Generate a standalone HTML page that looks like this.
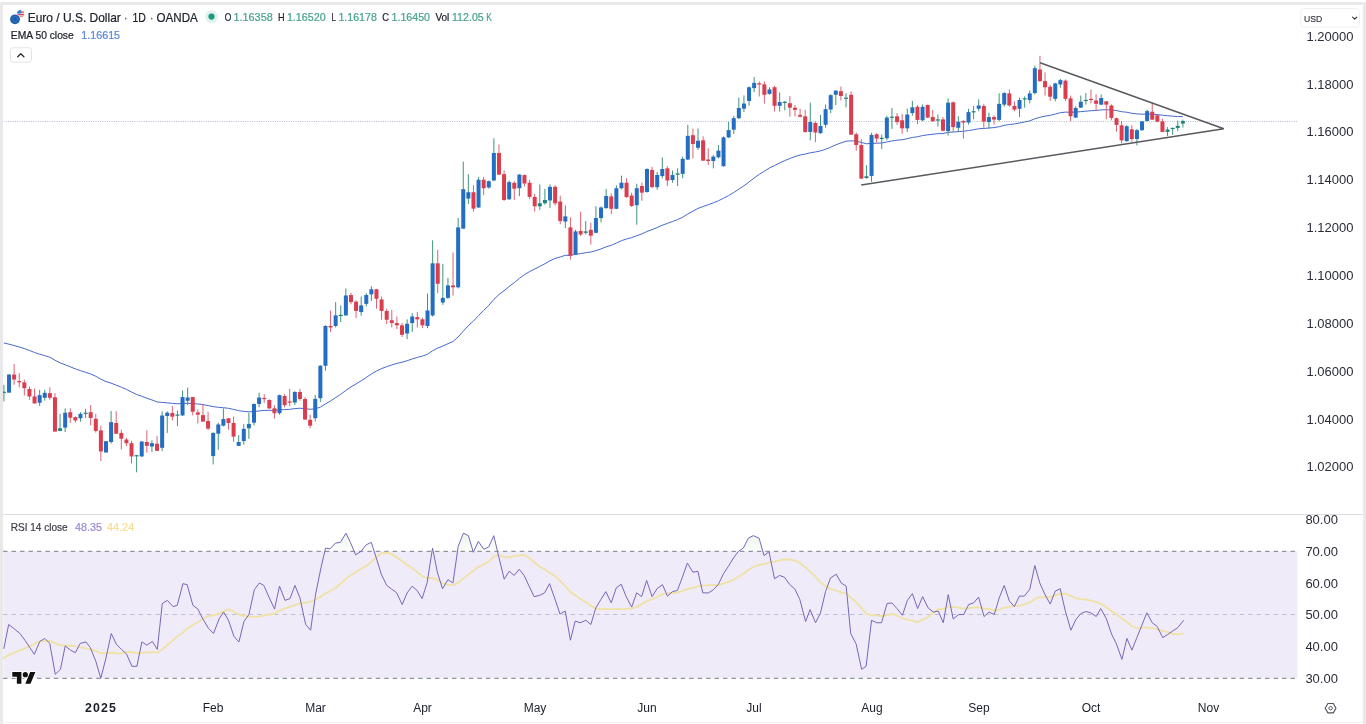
<!DOCTYPE html>
<html><head><meta charset="utf-8"><title>EURUSD</title>
<style>
html,body{margin:0;padding:0;background:#fff;}
body{width:1366px;height:724px;position:relative;overflow:hidden;font-family:"Liberation Sans",sans-serif;color:#1c1f2a;}
.b{position:absolute;background:#e9e9e9;}
svg{position:absolute;left:0;top:0;}
.pl{position:absolute;left:1306.5px;width:60px;font-size:13px;line-height:16px;height:16px;color:#2a2d38;white-space:nowrap;}
.tl{position:absolute;top:699.5px;width:60px;text-align:center;font-size:12px;line-height:16px;color:#1c1f2a;white-space:nowrap;}
.t{position:absolute;white-space:nowrap;}
</style></head><body>
<svg width="1366" height="724" viewBox="0 0 1366 724" shape-rendering="auto">
<line x1="3.5" y1="121.5" x2="1297.5" y2="121.5" stroke="#b4bfd3" stroke-width="1" stroke-dasharray="1 1.3"/>
<polyline fill="none" stroke="#4669cc" stroke-width="1" stroke-linejoin="round" points="3.92,342.98 9.03,344.2 14.13,345.57 19.24,346.99 24.34,348.59 29.44,350.44 34.55,352.5 39.65,354.15 44.75,355.65 49.86,357.28 54.96,360.18 60.06,362.83 65.17,364.76 70.27,366.82 75.38,368.9 80.48,370.65 85.58,372.27 90.69,374.05 95.79,376.26 100.89,379.19 106,381.6 111.1,383.17 116.2,385.13 121.31,387.21 126.41,389.39 131.51,392 136.62,394.47 141.72,396.29 146.83,398.22 151.93,399.96 157.03,401.93 162.14,402.45 167.24,402.83 172.34,403.35 177.45,403.78 182.55,403.5 187.65,403.24 192.76,403.55 197.86,403.97 202.97,404.64 208.07,405.56 213.17,406.61 218.28,407.29 223.38,407.74 228.48,408.31 233.59,409.4 238.69,410.66 243.79,411.36 248.9,411.83 254,411.5 259.11,410.93 264.21,410.45 269.31,410.34 274.42,410.44 279.52,409.82 284.62,409.62 289.73,409.32 294.83,408.62 299.93,408.22 305.04,408.64 310.14,409.29 315.24,408.86 320.35,407.15 325.45,403.95 330.56,400.93 335.66,397.56 340.76,394.3 345.87,390.4 350.97,386.92 356.07,383.92 361.18,380.82 366.28,377.44 371.38,373.96 376.49,370.99 381.59,368.62 386.7,366.68 391.8,364.95 396.9,363.38 402.01,362.24 407.11,360.71 412.21,358.96 417.32,357.38 422.42,356.1 427.52,354.3 432.63,350.71 437.73,348.06 442.83,346.08 447.94,343.68 453.04,341.45 458.15,336.95 463.25,331.14 468.35,325.67 473.46,321.06 478.56,315.5 483.66,310.49 488.77,305.4 493.87,299.4 498.97,294.49 504.08,290.76 509.18,286.48 514.29,282.63 519.39,278.37 524.49,274.63 529.6,271.56 534.7,268.98 539.8,266.39 544.91,263.76 550.01,260.72 555.11,258.45 560.22,256.97 565.32,255.35 570.42,255.34 575.53,254.39 580.63,253.58 585.74,252.7 590.84,252.01 595.94,250.65 601.05,248.94 606.15,246.84 611.25,245.33 616.36,243.07 621.46,240.69 626.56,238.96 631.67,237.64 636.77,235.68 641.88,233.98 646.98,231.41 652.08,229.65 657.19,227.49 662.29,225.18 667.39,223.4 672.5,221.49 677.6,219.58 682.7,217.18 687.81,213.97 692.91,211.21 698.02,208.42 703.12,206.53 708.22,204.73 713.33,202.82 718.43,200.76 723.53,198.25 728.64,195.56 733.74,192.51 738.84,189.17 743.95,185.8 749.05,181.91 754.15,178.01 759.26,174.32 764.36,171.18 769.47,167.96 774.57,165.5 779.67,162.99 784.78,160.58 789.88,158.49 794.98,156.56 800.09,154.98 805.19,154.05 810.29,152.78 815.4,151.96 820.5,150.93 825.61,149.27 830.71,147.13 835.81,144.89 840.92,142.96 846.02,141.17 851.12,140.89 856.23,141.03 861.33,142.49 866.43,143.79 871.54,143.43 876.64,143.22 881.74,142.99 886.85,141.97 891.95,140.96 897.06,140.2 902.16,139.72 907.26,138.71 912.37,137.46 917.47,136.75 922.57,135.56 927.68,134.83 932.78,134.28 937.88,133.67 942.99,133.54 948.09,132.31 953.2,132.08 958.3,131.66 963.4,131.28 968.51,130.51 973.61,129.73 978.71,128.76 983.82,128.46 988.92,127.99 994.02,127.64 999.13,126.69 1004.23,125.35 1009.34,124.55 1014.44,123.95 1019.54,122.99 1024.65,122 1029.75,120.86 1034.85,118.78 1039.96,117.28 1045.06,116.08 1050.16,115.3 1055.27,114.04 1060.37,112.69 1065.47,112.12 1070.58,112.27 1075.68,112.08 1080.79,111.65 1085.89,111.17 1090.99,110.72 1096.1,110.43 1101.2,109.92 1106.3,109.69 1111.41,110 1116.51,110.56 1121.61,111.71 1126.72,112.26 1131.82,113.29 1136.93,113.93 1142.03,114.2 1147.13,114.06 1152.24,114.26 1157.34,114.53 1162.44,115.19 1167.55,115.73 1172.65,116.19 1177.75,116.55 1182.86,116.71"/>
<path d="M3.92 384.86V401.43" stroke="#3f937c" stroke-width="1"/>
<path d="M9.03 374.08V392.64" stroke="#3f937c" stroke-width="1"/>
<path d="M14.13 364.14V384.86" stroke="#dc6272" stroke-width="1"/>
<path d="M19.24 373.26V387.34" stroke="#dc6272" stroke-width="1"/>
<path d="M24.34 379.55V395.63" stroke="#dc6272" stroke-width="1"/>
<path d="M29.44 386.51V399.77" stroke="#dc6272" stroke-width="1"/>
<path d="M34.55 388.5V403.41" stroke="#dc6272" stroke-width="1"/>
<path d="M39.65 389.83V406.06" stroke="#3f937c" stroke-width="1"/>
<path d="M44.75 389.83V400.6" stroke="#3f937c" stroke-width="1"/>
<path d="M49.86 387.34V399.77" stroke="#dc6272" stroke-width="1"/>
<path d="M54.96 393.14V431.58" stroke="#dc6272" stroke-width="1"/>
<path d="M60.06 413.85V431.25" stroke="#3f937c" stroke-width="1"/>
<path d="M65.17 408.38V432.08" stroke="#3f937c" stroke-width="1"/>
<path d="M70.27 408.38V422.97" stroke="#dc6272" stroke-width="1"/>
<path d="M75.38 416.34V422.63" stroke="#dc6272" stroke-width="1"/>
<path d="M80.48 412.2V421.64" stroke="#3f937c" stroke-width="1"/>
<path d="M85.58 408.88V418" stroke="#3f937c" stroke-width="1"/>
<path d="M90.69 405.07V425.45" stroke="#dc6272" stroke-width="1"/>
<path d="M95.79 413.85V432.58" stroke="#dc6272" stroke-width="1"/>
<path d="M100.89 425.45V461.08" stroke="#dc6272" stroke-width="1"/>
<path d="M106 441.19V452.46" stroke="#3f937c" stroke-width="1"/>
<path d="M111.1 411.04V443.68" stroke="#3f937c" stroke-width="1"/>
<path d="M116.2 411.37V433.74" stroke="#dc6272" stroke-width="1"/>
<path d="M121.31 429.59V449.48" stroke="#dc6272" stroke-width="1"/>
<path d="M126.41 437.88V446.16" stroke="#dc6272" stroke-width="1"/>
<path d="M131.51 440.86V463.56" stroke="#dc6272" stroke-width="1"/>
<path d="M136.62 454.78V472.34" stroke="#3f937c" stroke-width="1"/>
<path d="M141.72 441.19V456.93" stroke="#3f937c" stroke-width="1"/>
<path d="M146.83 430.42V452.79" stroke="#dc6272" stroke-width="1"/>
<path d="M151.93 440.36V451.96" stroke="#3f937c" stroke-width="1"/>
<path d="M157.03 435.89V451.14" stroke="#dc6272" stroke-width="1"/>
<path d="M162.14 411.37V451.14" stroke="#3f937c" stroke-width="1"/>
<path d="M167.24 411.37V432.91" stroke="#3f937c" stroke-width="1"/>
<path d="M172.34 406.06V420.48" stroke="#dc6272" stroke-width="1"/>
<path d="M177.45 410.54V425.95" stroke="#3f937c" stroke-width="1"/>
<path d="M182.55 390.5V416.12" stroke="#3f937c" stroke-width="1"/>
<path d="M187.65 387.57V405.14" stroke="#3f937c" stroke-width="1"/>
<path d="M192.76 396.79V415.39" stroke="#dc6272" stroke-width="1"/>
<path d="M197.86 409.53V423.44" stroke="#dc6272" stroke-width="1"/>
<path d="M202.97 403.97V421.98" stroke="#dc6272" stroke-width="1"/>
<path d="M208.07 411.73V430.32" stroke="#dc6272" stroke-width="1"/>
<path d="M213.17 432.23V464.44" stroke="#3f937c" stroke-width="1"/>
<path d="M218.28 422.71V449.8" stroke="#3f937c" stroke-width="1"/>
<path d="M223.38 408.36V426.37" stroke="#3f937c" stroke-width="1"/>
<path d="M228.48 418.02V429.74" stroke="#dc6272" stroke-width="1"/>
<path d="M233.59 416.56V441.74" stroke="#dc6272" stroke-width="1"/>
<path d="M238.69 435.15V446.13" stroke="#3f937c" stroke-width="1"/>
<path d="M243.79 424.17V444.67" stroke="#3f937c" stroke-width="1"/>
<path d="M248.9 412.75V438.81" stroke="#3f937c" stroke-width="1"/>
<path d="M254 403.38V425.34" stroke="#3f937c" stroke-width="1"/>
<path d="M259.11 392.69V407.34" stroke="#3f937c" stroke-width="1"/>
<path d="M264.21 394.16V402.94" stroke="#dc6272" stroke-width="1"/>
<path d="M269.31 399.28V409.24" stroke="#dc6272" stroke-width="1"/>
<path d="M274.42 405.14V418.61" stroke="#dc6272" stroke-width="1"/>
<path d="M279.52 394.6V414.66" stroke="#3f937c" stroke-width="1"/>
<path d="M284.62 394.16V407.34" stroke="#dc6272" stroke-width="1"/>
<path d="M289.73 388.74V406.31" stroke="#dc6272" stroke-width="1"/>
<path d="M294.83 391.23V405.14" stroke="#3f937c" stroke-width="1"/>
<path d="M299.93 389.03V400.75" stroke="#dc6272" stroke-width="1"/>
<path d="M305.04 397.09V419.78" stroke="#dc6272" stroke-width="1"/>
<path d="M310.14 414.66V428.27" stroke="#dc6272" stroke-width="1"/>
<path d="M315.24 394.92V421.44" stroke="#3f937c" stroke-width="1"/>
<path d="M320.35 365.08V401.99" stroke="#3f937c" stroke-width="1"/>
<path d="M325.45 325.3V370.61" stroke="#3f937c" stroke-width="1"/>
<path d="M330.56 310.5V331.93" stroke="#dc6272" stroke-width="1"/>
<path d="M335.66 302.1V327.51" stroke="#3f937c" stroke-width="1"/>
<path d="M340.76 305.41V321.99" stroke="#3f937c" stroke-width="1"/>
<path d="M345.87 288.4V315.8" stroke="#3f937c" stroke-width="1"/>
<path d="M350.97 292.82V304.31" stroke="#dc6272" stroke-width="1"/>
<path d="M356.07 300.33V318.01" stroke="#dc6272" stroke-width="1"/>
<path d="M361.18 296.57V315.8" stroke="#3f937c" stroke-width="1"/>
<path d="M366.28 293.26V306.52" stroke="#3f937c" stroke-width="1"/>
<path d="M371.38 286.19V300.99" stroke="#3f937c" stroke-width="1"/>
<path d="M376.49 288.84V308.73" stroke="#dc6272" stroke-width="1"/>
<path d="M381.59 296.57V319.78" stroke="#dc6272" stroke-width="1"/>
<path d="M386.7 308.73V324.2" stroke="#dc6272" stroke-width="1"/>
<path d="M391.8 309.83V327.51" stroke="#dc6272" stroke-width="1"/>
<path d="M396.9 316.46V329.06" stroke="#dc6272" stroke-width="1"/>
<path d="M402.01 323.09V337.02" stroke="#dc6272" stroke-width="1"/>
<path d="M407.11 319.34V339.23" stroke="#3f937c" stroke-width="1"/>
<path d="M412.21 313.15V331.93" stroke="#3f937c" stroke-width="1"/>
<path d="M417.32 312.04V327.51" stroke="#dc6272" stroke-width="1"/>
<path d="M422.42 317.57V328.18" stroke="#dc6272" stroke-width="1"/>
<path d="M427.52 293.7V328.18" stroke="#3f937c" stroke-width="1"/>
<path d="M432.63 240.33V316.62" stroke="#3f937c" stroke-width="1"/>
<path d="M437.73 249.72V293.15" stroke="#dc6272" stroke-width="1"/>
<path d="M442.83 263.8V304.88" stroke="#3f937c" stroke-width="1"/>
<path d="M447.94 277.89V299.01" stroke="#3f937c" stroke-width="1"/>
<path d="M453.04 252.54V295.49" stroke="#dc6272" stroke-width="1"/>
<path d="M458.15 218.03V288.45" stroke="#3f937c" stroke-width="1"/>
<path d="M463.25 161.69V229.06" stroke="#3f937c" stroke-width="1"/>
<path d="M468.35 174.13V203.94" stroke="#3f937c" stroke-width="1"/>
<path d="M473.46 185.16V211.69" stroke="#dc6272" stroke-width="1"/>
<path d="M478.56 176.95V207.93" stroke="#3f937c" stroke-width="1"/>
<path d="M483.66 176.95V195.26" stroke="#dc6272" stroke-width="1"/>
<path d="M488.77 180.47V188.69" stroke="#3f937c" stroke-width="1"/>
<path d="M493.87 138.22V181.17" stroke="#3f937c" stroke-width="1"/>
<path d="M498.97 144.55V175.07" stroke="#dc6272" stroke-width="1"/>
<path d="M504.08 170.38V200.89" stroke="#dc6272" stroke-width="1"/>
<path d="M509.18 180.47V199.95" stroke="#3f937c" stroke-width="1"/>
<path d="M514.29 181.17V199.95" stroke="#dc6272" stroke-width="1"/>
<path d="M519.39 174.13V196.2" stroke="#3f937c" stroke-width="1"/>
<path d="M524.49 174.6V186.34" stroke="#dc6272" stroke-width="1"/>
<path d="M529.6 179.77V199.25" stroke="#dc6272" stroke-width="1"/>
<path d="M534.7 193.85V211.69" stroke="#dc6272" stroke-width="1"/>
<path d="M539.8 184.46V209.81" stroke="#3f937c" stroke-width="1"/>
<path d="M544.91 188.69V204.65" stroke="#3f937c" stroke-width="1"/>
<path d="M550.01 184.46V207.93" stroke="#3f937c" stroke-width="1"/>
<path d="M555.11 185.16V205.59" stroke="#dc6272" stroke-width="1"/>
<path d="M560.22 195.73V224.37" stroke="#dc6272" stroke-width="1"/>
<path d="M565.32 205.59V228.12" stroke="#3f937c" stroke-width="1"/>
<path d="M570.42 217.32V259.58" stroke="#dc6272" stroke-width="1"/>
<path d="M575.53 229.77V254.88" stroke="#3f937c" stroke-width="1"/>
<path d="M580.63 211.69V236.1" stroke="#dc6272" stroke-width="1"/>
<path d="M585.74 221.08V234.46" stroke="#3f937c" stroke-width="1"/>
<path d="M590.84 222.72V244.55" stroke="#dc6272" stroke-width="1"/>
<path d="M595.94 206.29V233.29" stroke="#3f937c" stroke-width="1"/>
<path d="M601.05 206.57V222.49" stroke="#3f937c" stroke-width="1"/>
<path d="M606.15 188.9V208.78" stroke="#3f937c" stroke-width="1"/>
<path d="M611.25 193.31V214.09" stroke="#dc6272" stroke-width="1"/>
<path d="M616.36 185.36V209.23" stroke="#3f937c" stroke-width="1"/>
<path d="M621.46 175.64V189.34" stroke="#3f937c" stroke-width="1"/>
<path d="M626.56 178.29V197.73" stroke="#dc6272" stroke-width="1"/>
<path d="M631.67 192.65V207.02" stroke="#dc6272" stroke-width="1"/>
<path d="M636.77 183.81V224.7" stroke="#3f937c" stroke-width="1"/>
<path d="M641.88 182.71V200.83" stroke="#dc6272" stroke-width="1"/>
<path d="M646.98 168.34V192.65" stroke="#3f937c" stroke-width="1"/>
<path d="M652.08 166.8V188.23" stroke="#dc6272" stroke-width="1"/>
<path d="M657.19 172.1V189.78" stroke="#3f937c" stroke-width="1"/>
<path d="M662.29 157.29V178.29" stroke="#3f937c" stroke-width="1"/>
<path d="M667.39 166.13V186.02" stroke="#dc6272" stroke-width="1"/>
<path d="M672.5 170.55V182.71" stroke="#3f937c" stroke-width="1"/>
<path d="M677.6 168.34V186.02" stroke="#3f937c" stroke-width="1"/>
<path d="M682.7 156.63V178.29" stroke="#3f937c" stroke-width="1"/>
<path d="M687.81 124.81V160.17" stroke="#3f937c" stroke-width="1"/>
<path d="M692.91 128.56V158.4" stroke="#dc6272" stroke-width="1"/>
<path d="M698.02 128.56V150" stroke="#3f937c" stroke-width="1"/>
<path d="M703.12 136.3V161.05" stroke="#dc6272" stroke-width="1"/>
<path d="M708.22 148.45V165.03" stroke="#dc6272" stroke-width="1"/>
<path d="M713.33 155.08V168.34" stroke="#3f937c" stroke-width="1"/>
<path d="M718.43 145.14V158.4" stroke="#3f937c" stroke-width="1"/>
<path d="M723.53 136.3V166.8" stroke="#3f937c" stroke-width="1"/>
<path d="M728.64 121.93V138.07" stroke="#3f937c" stroke-width="1"/>
<path d="M733.74 115.97V134.09" stroke="#3f937c" stroke-width="1"/>
<path d="M738.84 97.62V119.06" stroke="#3f937c" stroke-width="1"/>
<path d="M743.95 95.41V111.99" stroke="#3f937c" stroke-width="1"/>
<path d="M749.05 86.57V105.8" stroke="#3f937c" stroke-width="1"/>
<path d="M754.15 77.07V92.1" stroke="#3f937c" stroke-width="1"/>
<path d="M759.26 81.49V96.52" stroke="#dc6272" stroke-width="1"/>
<path d="M764.36 81.49V103.59" stroke="#dc6272" stroke-width="1"/>
<path d="M769.47 87.24V94.75" stroke="#3f937c" stroke-width="1"/>
<path d="M774.57 85.91V111.55" stroke="#dc6272" stroke-width="1"/>
<path d="M779.67 92.54V111.55" stroke="#3f937c" stroke-width="1"/>
<path d="M784.78 100.88V110.39" stroke="#3f937c" stroke-width="1"/>
<path d="M789.88 96.03V116.68" stroke="#dc6272" stroke-width="1"/>
<path d="M794.98 105.01V116.32" stroke="#dc6272" stroke-width="1"/>
<path d="M800.09 108.6V117.58" stroke="#dc6272" stroke-width="1"/>
<path d="M805.19 109.86V132.84" stroke="#dc6272" stroke-width="1"/>
<path d="M810.29 102.68V140.38" stroke="#3f937c" stroke-width="1"/>
<path d="M815.4 121.17V142.17" stroke="#dc6272" stroke-width="1"/>
<path d="M820.5 114.88V133.73" stroke="#3f937c" stroke-width="1"/>
<path d="M825.61 104.47V127.81" stroke="#3f937c" stroke-width="1"/>
<path d="M830.71 94.24V113.09" stroke="#3f937c" stroke-width="1"/>
<path d="M835.81 90.11V105.01" stroke="#3f937c" stroke-width="1"/>
<path d="M840.92 86.52V100.52" stroke="#dc6272" stroke-width="1"/>
<path d="M846.02 93.34V107.34" stroke="#3f937c" stroke-width="1"/>
<path d="M851.12 91.54V134.99" stroke="#dc6272" stroke-width="1"/>
<path d="M856.23 132.48V150.79" stroke="#dc6272" stroke-width="1"/>
<path d="M861.33 139.12V179.16" stroke="#dc6272" stroke-width="1"/>
<path d="M866.43 165.15V178.62" stroke="#3f937c" stroke-width="1"/>
<path d="M871.54 132.84V181.67" stroke="#3f937c" stroke-width="1"/>
<path d="M876.64 133.2V142.71" stroke="#dc6272" stroke-width="1"/>
<path d="M881.74 134.63V148.99" stroke="#3f937c" stroke-width="1"/>
<path d="M886.85 115.78V140.38" stroke="#3f937c" stroke-width="1"/>
<path d="M891.95 108.06V128.89" stroke="#3f937c" stroke-width="1"/>
<path d="M897.06 113.09V124.76" stroke="#dc6272" stroke-width="1"/>
<path d="M902.16 113.99V133.73" stroke="#dc6272" stroke-width="1"/>
<path d="M907.26 108.6V131.94" stroke="#3f937c" stroke-width="1"/>
<path d="M912.37 100.88V115.78" stroke="#3f937c" stroke-width="1"/>
<path d="M917.47 105.01V124.22" stroke="#dc6272" stroke-width="1"/>
<path d="M922.57 104.47V121.17" stroke="#3f937c" stroke-width="1"/>
<path d="M927.68 104.47V118.11" stroke="#dc6272" stroke-width="1"/>
<path d="M932.78 109.86V122.06" stroke="#dc6272" stroke-width="1"/>
<path d="M937.88 114.52V126.55" stroke="#3f937c" stroke-width="1"/>
<path d="M942.99 117.04V131.4" stroke="#dc6272" stroke-width="1"/>
<path d="M948.09 98.37V135.53" stroke="#3f937c" stroke-width="1"/>
<path d="M953.2 101.42V131.94" stroke="#dc6272" stroke-width="1"/>
<path d="M958.3 116.32V131.94" stroke="#3f937c" stroke-width="1"/>
<path d="M963.4 120.39V138.62" stroke="#dc6272" stroke-width="1"/>
<path d="M968.51 108.79V124.54" stroke="#3f937c" stroke-width="1"/>
<path d="M973.61 105.98V119.23" stroke="#3f937c" stroke-width="1"/>
<path d="M978.71 99.35V111.28" stroke="#3f937c" stroke-width="1"/>
<path d="M983.82 103.82V127.85" stroke="#dc6272" stroke-width="1"/>
<path d="M988.92 112.61V128.68" stroke="#3f937c" stroke-width="1"/>
<path d="M994.02 115.42V124.54" stroke="#dc6272" stroke-width="1"/>
<path d="M999.13 93.38V121.22" stroke="#3f937c" stroke-width="1"/>
<path d="M1004.23 92.22V106.64" stroke="#3f937c" stroke-width="1"/>
<path d="M1009.34 89.41V106.64" stroke="#dc6272" stroke-width="1"/>
<path d="M1014.44 101.34V111.28" stroke="#dc6272" stroke-width="1"/>
<path d="M1019.54 97.69V117.08" stroke="#3f937c" stroke-width="1"/>
<path d="M1024.65 96.37V107.63" stroke="#3f937c" stroke-width="1"/>
<path d="M1029.75 90.57V103.33" stroke="#3f937c" stroke-width="1"/>
<path d="M1034.85 65.71V94.38" stroke="#3f937c" stroke-width="1"/>
<path d="M1039.96 55.77V81.79" stroke="#dc6272" stroke-width="1"/>
<path d="M1045.06 72.34V95.54" stroke="#dc6272" stroke-width="1"/>
<path d="M1050.16 84.77V101.01" stroke="#dc6272" stroke-width="1"/>
<path d="M1055.27 82.78V101.34" stroke="#3f937c" stroke-width="1"/>
<path d="M1060.37 78.97V87.75" stroke="#3f937c" stroke-width="1"/>
<path d="M1065.47 79.47V101.01" stroke="#dc6272" stroke-width="1"/>
<path d="M1070.58 95.54V121.22" stroke="#dc6272" stroke-width="1"/>
<path d="M1075.68 106.31V117.91" stroke="#3f937c" stroke-width="1"/>
<path d="M1080.79 95.54V107.97" stroke="#3f937c" stroke-width="1"/>
<path d="M1085.89 93.05V104.65" stroke="#3f937c" stroke-width="1"/>
<path d="M1090.99 89.41V103.33" stroke="#dc6272" stroke-width="1"/>
<path d="M1096.1 94.38V110.95" stroke="#dc6272" stroke-width="1"/>
<path d="M1101.2 94.38V104.98" stroke="#3f937c" stroke-width="1"/>
<path d="M1106.3 101.01V119.23" stroke="#dc6272" stroke-width="1"/>
<path d="M1111.41 104.32V120.39" stroke="#dc6272" stroke-width="1"/>
<path d="M1116.51 117.58V131.5" stroke="#dc6272" stroke-width="1"/>
<path d="M1121.61 120.97V143.37" stroke="#dc6272" stroke-width="1"/>
<path d="M1126.72 125.31V141.65" stroke="#3f937c" stroke-width="1"/>
<path d="M1131.82 125.31V141.65" stroke="#dc6272" stroke-width="1"/>
<path d="M1136.93 128.87V145.34" stroke="#3f937c" stroke-width="1"/>
<path d="M1142.03 120.97V130.85" stroke="#3f937c" stroke-width="1"/>
<path d="M1147.13 109.77V121.62" stroke="#3f937c" stroke-width="1"/>
<path d="M1152.24 102.52V120.04" stroke="#dc6272" stroke-width="1"/>
<path d="M1157.34 114.77V122.28" stroke="#dc6272" stroke-width="1"/>
<path d="M1162.44 118.73V132.17" stroke="#dc6272" stroke-width="1"/>
<path d="M1167.55 127.16V136.12" stroke="#3f937c" stroke-width="1"/>
<path d="M1172.65 127.55V134.8" stroke="#3f937c" stroke-width="1"/>
<path d="M1177.75 120.57V131.11" stroke="#3f937c" stroke-width="1"/>
<path d="M1182.86 119.65V127.55" stroke="#3f937c" stroke-width="1"/>
<rect x="1.92" y="391.71" width="4" height="1.2" fill="#1f8482"/>
<rect x="7.03" y="374.58" width="4" height="18.06" fill="#236ec2"/>
<rect x="12.13" y="374.58" width="4" height="4.97" fill="#d93d4e"/>
<rect x="17.24" y="381.04" width="4" height="1.33" fill="#d93d4e"/>
<rect x="22.34" y="382.37" width="4" height="5.8" fill="#d93d4e"/>
<rect x="27.44" y="389" width="4" height="7.46" fill="#d93d4e"/>
<rect x="32.55" y="396.45" width="4" height="6.96" fill="#d93d4e"/>
<rect x="37.65" y="395.13" width="4" height="7.62" fill="#236ec2"/>
<rect x="42.75" y="392.81" width="4" height="4.97" fill="#236ec2"/>
<rect x="47.86" y="393.14" width="4" height="4.64" fill="#d93d4e"/>
<rect x="52.96" y="397.28" width="4" height="34.3" fill="#d93d4e"/>
<rect x="58.06" y="428.27" width="4" height="2.65" fill="#1f8482"/>
<rect x="63.17" y="412.69" width="4" height="14.91" fill="#236ec2"/>
<rect x="68.27" y="412.2" width="4" height="5.47" fill="#d93d4e"/>
<rect x="73.38" y="417.17" width="4" height="3.31" fill="#d93d4e"/>
<rect x="78.48" y="413.85" width="4" height="4.47" fill="#236ec2"/>
<rect x="83.58" y="412.67" width="4" height="1.2" fill="#1f8482"/>
<rect x="88.69" y="412.2" width="4" height="5.8" fill="#d93d4e"/>
<rect x="93.79" y="418.82" width="4" height="12.1" fill="#d93d4e"/>
<rect x="98.89" y="430.42" width="4" height="21.04" fill="#d93d4e"/>
<rect x="104" y="441.19" width="4" height="11.27" fill="#236ec2"/>
<rect x="109.1" y="422.14" width="4" height="19.88" fill="#236ec2"/>
<rect x="114.2" y="422.97" width="4" height="10.77" fill="#d93d4e"/>
<rect x="119.31" y="432.91" width="4" height="5.8" fill="#d93d4e"/>
<rect x="124.41" y="439.54" width="4" height="3.65" fill="#d93d4e"/>
<rect x="129.51" y="443.18" width="4" height="13.26" fill="#d93d4e"/>
<rect x="134.62" y="455.17" width="4" height="1.2" fill="#1f8482"/>
<rect x="139.72" y="441.52" width="4" height="14.91" fill="#236ec2"/>
<rect x="144.83" y="442.02" width="4" height="3.81" fill="#d93d4e"/>
<rect x="149.93" y="443.18" width="4" height="3.31" fill="#236ec2"/>
<rect x="155.03" y="443.68" width="4" height="7.13" fill="#d93d4e"/>
<rect x="160.14" y="415.51" width="4" height="32.31" fill="#236ec2"/>
<rect x="165.24" y="412.69" width="4" height="3.31" fill="#236ec2"/>
<rect x="170.34" y="413.02" width="4" height="3.65" fill="#d93d4e"/>
<rect x="175.45" y="414.5" width="4" height="1.2" fill="#1f8482"/>
<rect x="180.55" y="397.09" width="4" height="18.3" fill="#236ec2"/>
<rect x="185.65" y="397.53" width="4" height="3.22" fill="#236ec2"/>
<rect x="190.76" y="397.09" width="4" height="14.64" fill="#d93d4e"/>
<rect x="195.86" y="412.46" width="4" height="2.2" fill="#d93d4e"/>
<rect x="200.97" y="415.1" width="4" height="6.44" fill="#d93d4e"/>
<rect x="206.07" y="420.95" width="4" height="7.61" fill="#d93d4e"/>
<rect x="211.17" y="432.96" width="4" height="23.13" fill="#236ec2"/>
<rect x="216.28" y="424.47" width="4" height="9.22" fill="#236ec2"/>
<rect x="221.38" y="419.05" width="4" height="6.59" fill="#236ec2"/>
<rect x="226.48" y="418.32" width="4" height="4.69" fill="#d93d4e"/>
<rect x="231.59" y="423" width="4" height="13.62" fill="#d93d4e"/>
<rect x="236.69" y="442.04" width="4" height="3.81" fill="#236ec2"/>
<rect x="241.79" y="428.86" width="4" height="12.15" fill="#236ec2"/>
<rect x="246.9" y="423.88" width="4" height="4.39" fill="#236ec2"/>
<rect x="252" y="403.97" width="4" height="18.74" fill="#236ec2"/>
<rect x="257.11" y="397.53" width="4" height="6.44" fill="#236ec2"/>
<rect x="262.21" y="397.95" width="4" height="1.2" fill="#d93d4e"/>
<rect x="267.31" y="400.01" width="4" height="8.35" fill="#d93d4e"/>
<rect x="272.42" y="408.36" width="4" height="4.83" fill="#d93d4e"/>
<rect x="277.52" y="395.18" width="4" height="18.01" fill="#236ec2"/>
<rect x="282.62" y="396.06" width="4" height="9.08" fill="#d93d4e"/>
<rect x="287.73" y="401.39" width="4" height="1.2" fill="#d93d4e"/>
<rect x="292.83" y="391.96" width="4" height="10.54" fill="#236ec2"/>
<rect x="297.93" y="391.96" width="4" height="7.03" fill="#d93d4e"/>
<rect x="303.04" y="398.99" width="4" height="20.5" fill="#d93d4e"/>
<rect x="308.14" y="419.78" width="4" height="5.86" fill="#d93d4e"/>
<rect x="313.24" y="398.9" width="4" height="19.23" fill="#236ec2"/>
<rect x="318.35" y="365.75" width="4" height="32.49" fill="#236ec2"/>
<rect x="323.45" y="325.97" width="4" height="39.78" fill="#236ec2"/>
<rect x="328.56" y="325.97" width="4" height="1.55" fill="#d93d4e"/>
<rect x="333.66" y="315.36" width="4" height="10.61" fill="#236ec2"/>
<rect x="338.76" y="314.87" width="4" height="1.2" fill="#1f8482"/>
<rect x="343.87" y="295.47" width="4" height="19.89" fill="#236ec2"/>
<rect x="348.97" y="295.03" width="4" height="7.07" fill="#d93d4e"/>
<rect x="354.07" y="301.66" width="4" height="9.28" fill="#d93d4e"/>
<rect x="359.18" y="305.41" width="4" height="6.63" fill="#236ec2"/>
<rect x="364.28" y="295.03" width="4" height="8.84" fill="#236ec2"/>
<rect x="369.38" y="289.28" width="4" height="5.08" fill="#236ec2"/>
<rect x="374.49" y="289.28" width="4" height="9.5" fill="#d93d4e"/>
<rect x="379.59" y="299.45" width="4" height="11.49" fill="#d93d4e"/>
<rect x="384.7" y="310.94" width="4" height="8.84" fill="#d93d4e"/>
<rect x="389.8" y="320.22" width="4" height="2.87" fill="#d93d4e"/>
<rect x="394.9" y="323.09" width="4" height="2.21" fill="#d93d4e"/>
<rect x="400.01" y="325.3" width="4" height="9.5" fill="#d93d4e"/>
<rect x="405.11" y="323.76" width="4" height="9.72" fill="#236ec2"/>
<rect x="410.21" y="316.46" width="4" height="6.63" fill="#236ec2"/>
<rect x="415.32" y="317.13" width="4" height="2.21" fill="#d93d4e"/>
<rect x="420.42" y="319.34" width="4" height="5.97" fill="#d93d4e"/>
<rect x="425.52" y="310.5" width="4" height="15.47" fill="#236ec2"/>
<rect x="430.63" y="263.33" width="4" height="52.11" fill="#236ec2"/>
<rect x="435.73" y="263.33" width="4" height="20.42" fill="#d93d4e"/>
<rect x="440.83" y="297.84" width="4" height="4.69" fill="#236ec2"/>
<rect x="445.94" y="285.4" width="4" height="12.44" fill="#236ec2"/>
<rect x="451.04" y="285.4" width="4" height="1.88" fill="#d93d4e"/>
<rect x="456.15" y="227.42" width="4" height="59.86" fill="#236ec2"/>
<rect x="461.25" y="189.15" width="4" height="39.44" fill="#236ec2"/>
<rect x="466.35" y="192.21" width="4" height="6.34" fill="#236ec2"/>
<rect x="471.46" y="192.21" width="4" height="16.43" fill="#d93d4e"/>
<rect x="476.56" y="179.77" width="4" height="27.7" fill="#236ec2"/>
<rect x="481.66" y="179.77" width="4" height="8.45" fill="#d93d4e"/>
<rect x="486.77" y="181.17" width="4" height="6.34" fill="#236ec2"/>
<rect x="491.87" y="153" width="4" height="27.46" fill="#236ec2"/>
<rect x="496.97" y="153" width="4" height="21.6" fill="#d93d4e"/>
<rect x="502.08" y="174.13" width="4" height="25.82" fill="#d93d4e"/>
<rect x="507.18" y="182.11" width="4" height="17.14" fill="#236ec2"/>
<rect x="512.29" y="182.82" width="4" height="5.87" fill="#d93d4e"/>
<rect x="517.39" y="174.6" width="4" height="13.62" fill="#236ec2"/>
<rect x="522.49" y="175.07" width="4" height="8.45" fill="#d93d4e"/>
<rect x="527.6" y="182.82" width="4" height="14.08" fill="#d93d4e"/>
<rect x="532.7" y="196.9" width="4" height="9.39" fill="#d93d4e"/>
<rect x="537.8" y="203.24" width="4" height="3.05" fill="#1f8482"/>
<rect x="542.91" y="199.95" width="4" height="3.29" fill="#1f8482"/>
<rect x="548.01" y="186.81" width="4" height="13.62" fill="#236ec2"/>
<rect x="553.11" y="186.81" width="4" height="16.43" fill="#d93d4e"/>
<rect x="558.22" y="201.6" width="4" height="19.48" fill="#d93d4e"/>
<rect x="563.32" y="216.38" width="4" height="5.16" fill="#236ec2"/>
<rect x="568.42" y="227.42" width="4" height="28.17" fill="#d93d4e"/>
<rect x="573.53" y="231.41" width="4" height="23" fill="#236ec2"/>
<rect x="578.63" y="230.94" width="4" height="3.52" fill="#d93d4e"/>
<rect x="583.74" y="231.41" width="4" height="1.41" fill="#1f8482"/>
<rect x="588.84" y="229.77" width="4" height="5.87" fill="#d93d4e"/>
<rect x="593.94" y="218.03" width="4" height="14.79" fill="#236ec2"/>
<rect x="599.05" y="207.46" width="4" height="10.61" fill="#236ec2"/>
<rect x="604.15" y="195.97" width="4" height="12.15" fill="#236ec2"/>
<rect x="609.25" y="196.41" width="4" height="12.38" fill="#d93d4e"/>
<rect x="614.36" y="188.23" width="4" height="20.55" fill="#236ec2"/>
<rect x="619.46" y="182.71" width="4" height="5.52" fill="#236ec2"/>
<rect x="624.56" y="182.71" width="4" height="14.36" fill="#d93d4e"/>
<rect x="629.67" y="195.52" width="4" height="10.39" fill="#d93d4e"/>
<rect x="634.77" y="188.23" width="4" height="17.02" fill="#236ec2"/>
<rect x="639.88" y="186.02" width="4" height="6.63" fill="#d93d4e"/>
<rect x="644.98" y="169.01" width="4" height="22.98" fill="#236ec2"/>
<rect x="650.08" y="169.89" width="4" height="17.24" fill="#d93d4e"/>
<rect x="655.19" y="174.97" width="4" height="12.15" fill="#236ec2"/>
<rect x="660.29" y="169.01" width="4" height="7.07" fill="#236ec2"/>
<rect x="665.39" y="168.34" width="4" height="12.15" fill="#d93d4e"/>
<rect x="670.5" y="174.97" width="4" height="5.08" fill="#236ec2"/>
<rect x="675.6" y="173.43" width="4" height="1.33" fill="#1f8482"/>
<rect x="680.7" y="158.84" width="4" height="15.03" fill="#236ec2"/>
<rect x="685.81" y="135.86" width="4" height="23.65" fill="#236ec2"/>
<rect x="690.91" y="135.19" width="4" height="8.84" fill="#d93d4e"/>
<rect x="696.02" y="140.72" width="4" height="7.07" fill="#236ec2"/>
<rect x="701.12" y="140.28" width="4" height="20.33" fill="#d93d4e"/>
<rect x="706.22" y="159.5" width="4" height="1.55" fill="#d93d4e"/>
<rect x="711.33" y="156.63" width="4" height="4.42" fill="#236ec2"/>
<rect x="716.43" y="150.66" width="4" height="6.63" fill="#236ec2"/>
<rect x="721.53" y="137.4" width="4" height="28.73" fill="#236ec2"/>
<rect x="726.64" y="130.11" width="4" height="7.29" fill="#236ec2"/>
<rect x="731.74" y="118.18" width="4" height="11.49" fill="#236ec2"/>
<rect x="736.84" y="108.01" width="4" height="10.17" fill="#236ec2"/>
<rect x="741.95" y="103.59" width="4" height="5.08" fill="#236ec2"/>
<rect x="747.05" y="87.24" width="4" height="13.7" fill="#236ec2"/>
<rect x="752.15" y="82.82" width="4" height="5.3" fill="#236ec2"/>
<rect x="757.26" y="83.26" width="4" height="1.33" fill="#d93d4e"/>
<rect x="762.36" y="84.36" width="4" height="10.39" fill="#d93d4e"/>
<rect x="767.47" y="89.45" width="4" height="4.42" fill="#236ec2"/>
<rect x="772.57" y="87.24" width="4" height="18.56" fill="#d93d4e"/>
<rect x="777.67" y="102.04" width="4" height="3.76" fill="#236ec2"/>
<rect x="782.78" y="101.81" width="4" height="1.2" fill="#1f8482"/>
<rect x="787.88" y="103.21" width="4" height="4.49" fill="#d93d4e"/>
<rect x="792.98" y="107.7" width="4" height="2.15" fill="#d93d4e"/>
<rect x="798.09" y="114.88" width="4" height="1.8" fill="#d93d4e"/>
<rect x="803.19" y="116.32" width="4" height="15.62" fill="#d93d4e"/>
<rect x="808.29" y="122.06" width="4" height="9.87" fill="#236ec2"/>
<rect x="813.4" y="122.96" width="4" height="9.52" fill="#d93d4e"/>
<rect x="818.5" y="126.01" width="4" height="7.18" fill="#236ec2"/>
<rect x="823.61" y="109.14" width="4" height="15.62" fill="#236ec2"/>
<rect x="828.71" y="95.13" width="4" height="14.36" fill="#236ec2"/>
<rect x="833.81" y="90.65" width="4" height="4.13" fill="#236ec2"/>
<rect x="838.92" y="91.18" width="4" height="4.85" fill="#d93d4e"/>
<rect x="844.02" y="97.68" width="4" height="1.2" fill="#1f8482"/>
<rect x="849.12" y="94.78" width="4" height="39.86" fill="#d93d4e"/>
<rect x="854.23" y="134.27" width="4" height="10.77" fill="#d93d4e"/>
<rect x="859.33" y="145.04" width="4" height="33.57" fill="#d93d4e"/>
<rect x="864.43" y="176.28" width="4" height="1.8" fill="#1f8482"/>
<rect x="869.54" y="134.99" width="4" height="40.93" fill="#236ec2"/>
<rect x="874.64" y="134.27" width="4" height="4.31" fill="#d93d4e"/>
<rect x="879.74" y="137.8" width="4" height="1.2" fill="#1f8482"/>
<rect x="884.85" y="117.58" width="4" height="20.65" fill="#236ec2"/>
<rect x="889.95" y="116.62" width="4" height="1.2" fill="#1f8482"/>
<rect x="895.06" y="116.32" width="4" height="5.75" fill="#d93d4e"/>
<rect x="900.16" y="120.27" width="4" height="8.08" fill="#d93d4e"/>
<rect x="905.26" y="114.52" width="4" height="13.82" fill="#236ec2"/>
<rect x="910.37" y="107.34" width="4" height="5.75" fill="#236ec2"/>
<rect x="915.47" y="106.8" width="4" height="13.11" fill="#d93d4e"/>
<rect x="920.57" y="106.8" width="4" height="13.46" fill="#236ec2"/>
<rect x="925.68" y="105.01" width="4" height="12.57" fill="#d93d4e"/>
<rect x="930.78" y="117.04" width="4" height="4.13" fill="#d93d4e"/>
<rect x="935.88" y="119.37" width="4" height="1.26" fill="#1f8482"/>
<rect x="940.99" y="119.37" width="4" height="11.31" fill="#d93d4e"/>
<rect x="946.09" y="102.68" width="4" height="28.37" fill="#236ec2"/>
<rect x="951.2" y="102.32" width="4" height="24.78" fill="#d93d4e"/>
<rect x="956.3" y="121.71" width="4" height="6.1" fill="#236ec2"/>
<rect x="961.4" y="120.89" width="4" height="1.66" fill="#d93d4e"/>
<rect x="966.51" y="112.11" width="4" height="10.44" fill="#236ec2"/>
<rect x="971.61" y="111.18" width="4" height="1.2" fill="#1f8482"/>
<rect x="976.71" y="105.48" width="4" height="3.31" fill="#236ec2"/>
<rect x="981.82" y="105.98" width="4" height="15.58" fill="#d93d4e"/>
<rect x="986.92" y="117.08" width="4" height="4.97" fill="#236ec2"/>
<rect x="992.02" y="117.08" width="4" height="2.49" fill="#d93d4e"/>
<rect x="997.13" y="103.82" width="4" height="16.07" fill="#236ec2"/>
<rect x="1002.23" y="93.05" width="4" height="11.6" fill="#236ec2"/>
<rect x="1007.34" y="93.38" width="4" height="12.1" fill="#d93d4e"/>
<rect x="1012.44" y="105.98" width="4" height="3.65" fill="#d93d4e"/>
<rect x="1017.54" y="100.01" width="4" height="8.78" fill="#236ec2"/>
<rect x="1022.65" y="98.25" width="4" height="1.2" fill="#1f8482"/>
<rect x="1027.75" y="93.38" width="4" height="6.63" fill="#236ec2"/>
<rect x="1032.85" y="68.2" width="4" height="24.86" fill="#236ec2"/>
<rect x="1037.96" y="69.52" width="4" height="11.6" fill="#d93d4e"/>
<rect x="1043.06" y="81.12" width="4" height="6.13" fill="#d93d4e"/>
<rect x="1048.16" y="86.76" width="4" height="9.94" fill="#d93d4e"/>
<rect x="1053.27" y="83.44" width="4" height="15.41" fill="#236ec2"/>
<rect x="1058.37" y="80.13" width="4" height="4.31" fill="#236ec2"/>
<rect x="1063.47" y="80.63" width="4" height="18.23" fill="#d93d4e"/>
<rect x="1068.58" y="98.36" width="4" height="17.9" fill="#d93d4e"/>
<rect x="1073.68" y="107.97" width="4" height="9.61" fill="#236ec2"/>
<rect x="1078.79" y="101.67" width="4" height="5.97" fill="#236ec2"/>
<rect x="1083.89" y="99.91" width="4" height="1.2" fill="#1f8482"/>
<rect x="1088.99" y="98.83" width="4" height="1.2" fill="#d93d4e"/>
<rect x="1094.1" y="100.51" width="4" height="3.31" fill="#d93d4e"/>
<rect x="1099.2" y="98.02" width="4" height="6.63" fill="#236ec2"/>
<rect x="1104.3" y="101.34" width="4" height="3.31" fill="#d93d4e"/>
<rect x="1109.41" y="105.48" width="4" height="12.43" fill="#d93d4e"/>
<rect x="1114.51" y="118.24" width="4" height="6.63" fill="#d93d4e"/>
<rect x="1119.61" y="125.31" width="4" height="15.02" fill="#d93d4e"/>
<rect x="1124.72" y="126.24" width="4" height="14.89" fill="#236ec2"/>
<rect x="1129.82" y="129.27" width="4" height="9.75" fill="#d93d4e"/>
<rect x="1134.93" y="130.19" width="4" height="8.83" fill="#236ec2"/>
<rect x="1140.03" y="121.36" width="4" height="8.83" fill="#236ec2"/>
<rect x="1145.13" y="111.08" width="4" height="9.88" fill="#236ec2"/>
<rect x="1150.24" y="111.74" width="4" height="7.91" fill="#d93d4e"/>
<rect x="1155.34" y="115.3" width="4" height="6.32" fill="#d93d4e"/>
<rect x="1160.44" y="121.36" width="4" height="10.54" fill="#d93d4e"/>
<rect x="1165.55" y="129.53" width="4" height="2.37" fill="#1f8482"/>
<rect x="1170.65" y="127.88" width="4" height="1.2" fill="#1f8482"/>
<rect x="1175.75" y="125.84" width="4" height="2.11" fill="#1f8482"/>
<rect x="1180.86" y="120.97" width="4" height="2.64" fill="#1f8482"/>
<path d="M1040 62.7L1223.8 128.7L861.2 185.1" fill="none" stroke="#585a5f" stroke-width="1.55" stroke-linejoin="miter"/>
<rect x="3.5" y="551.3" width="1294.0" height="127" fill="#efebf9"/>
<line x1="3.5" y1="514.5" x2="1363" y2="514.5" stroke="#dcdcdf" stroke-width="1"/>
<line x1="3.1" y1="551.3" x2="1297.5" y2="551.3" stroke="#787b86" stroke-width="1" stroke-dasharray="4.4 4.07"/>
<line x1="3.1" y1="614.5" x2="1297.5" y2="614.5" stroke="#c2bed5" stroke-width="1" stroke-dasharray="4.4 4.07"/>
<line x1="3.1" y1="678.3" x2="1297.5" y2="678.3" stroke="#787b86" stroke-width="1" stroke-dasharray="4.4 4.07"/>
<clipPath id="ob"><rect x="0" y="515" width="1300" height="36.3"/></clipPath>
<linearGradient id="obg" gradientUnits="userSpaceOnUse" x1="0" y1="519" x2="0" y2="551"><stop offset="0" stop-color="#b6dfbb" stop-opacity="0.5"/><stop offset="1" stop-color="#b6dfbb" stop-opacity="0.05"/></linearGradient>
<polygon clip-path="url(#ob)" fill="url(#obg)" points="3.73,551.3 3.73,648.9 8.71,624.5 14.44,628.99 19.91,633.47 24.89,640.19 29.87,647.65 34.35,654.37 39.82,641.43 44.8,638.44 49.78,643.42 55.26,674.29 60.48,669.31 65.21,645.91 70.44,650.14 75.42,652.63 80.15,643.42 85.87,641.93 90.35,647.65 95.83,661.34 100.81,678.27 105.78,658.85 111.26,633.47 116.49,644.42 121.47,649.4 126.44,653.88 131.92,666.32 136.9,666.32 141.88,641.93 146.85,645.16 152.33,641.43 157.31,649.4 162.29,603.6 167.26,600.36 172.99,606.58 177.22,605.34 182.95,583.68 187.18,584.68 192.9,605.34 197.88,609.07 202.86,619.03 208.58,628.49 213.56,633.47 219.04,619.03 223.52,612.06 228.49,620.27 233.97,636.45 238.95,641.93 243.93,621.52 248.9,614.55 254.38,589.66 259.36,582.94 263.84,585.43 269.32,597.87 274.54,609.07 279.52,586.17 285,600.36 289.97,598.62 294.95,585.43 299.93,597.87 305.66,624.5 310.63,630.23 315.61,594.14 321.09,567.26 325.57,548.09 330,548.84 335.48,543.11 340.45,542.37 345.93,533.16 350.41,542.37 355.64,554.81 361.11,551.33 366.09,544.86 371.32,542.37 376.3,558.05 381.27,574.23 386.75,585.43 391.73,589.16 396.71,592.89 402.18,604.59 407.16,592.89 412.14,586.17 417.12,590.41 422.09,598.62 427.07,582.94 432.55,548.09 437.53,572.98 442.5,588.66 447.98,579.7 452.96,582.94 458.19,546.35 463.41,533.16 468.39,535.65 473.37,552.32 478.35,541.37 483.82,549.34 488.8,546.85 493.78,535.65 498.76,556.8 504.23,579.2 509.21,571.24 514.19,575.47 519.17,569.25 524.15,575.47 529.12,586.17 534.1,596.63 539.58,595.38 544.56,592.89 549.53,583.68 555.01,599.12 559.99,614.05 565.22,611.06 570.44,640.19 575.17,621.02 580.15,622.76 585.87,620.27 590.85,624.5 595.83,607.83 600.81,599.61 605.79,591.65 611.26,602.85 616.24,587.92 621.22,584.18 626.2,596.63 631.67,607.08 636.65,592.89 641.63,596.63 646.61,580.45 652.08,596.63 657.06,588.66 662.49,584.68 667.47,596.13 672.45,591.65 677.42,590.41 682.4,577.21 687.38,563.03 692.86,572.23 697.83,571.24 702.81,592.89 708.54,592.89 713.51,589.66 718.49,584.18 723.47,573.73 728.45,566.26 733.43,558.05 738.41,551.33 743.38,548.09 748.36,538.14 753.34,535.65 759.06,538.14 764.04,555.56 769.02,551.82 774.5,578.71 779.47,575.47 784.45,577.21 789.43,584.18 794.91,589.16 799.88,599.61 805.61,621.52 810.09,609.57 815.57,622.76 820.54,612.81 825.52,591.65 830.5,577.96 836.22,574.23 841.2,582.94 846.18,586.17 850.66,633.47 856.14,643.92 861.61,669.31 866.09,666.32 871.57,620.27 876.55,622.76 881.53,622.76 887,603.6 891.98,602.85 896.96,608.58 902.43,615.3 907.41,600.36 912.39,593.64 917.62,608.58 922.59,596.63 928.07,607.83 933.3,612.06 938.28,611.06 943.25,622.76 948.23,594.64 953.21,619.03 958.69,614.55 963.66,614.55 968.64,604.59 973.62,602.85 978.6,597.13 984.07,616.54 989.05,612.06 994.23,614.55 999.21,597.87 1004.19,585.43 1009.41,601.11 1014.39,606.58 1019.37,596.13 1024.35,596.13 1029.82,589.16 1034.8,565.51 1039.78,582.94 1044.76,594.14 1050.23,604.09 1055.21,591.15 1060.19,588.66 1065.17,610.32 1070.89,630.23 1075.87,619.53 1080.85,613.55 1085.83,611.56 1090.81,612.81 1096.28,616.54 1100.76,608.58 1106.49,619.03 1111.47,633.96 1116.44,643.92 1121.92,659.35 1126.9,638.44 1131.88,650.14 1136.85,637.7 1141.83,625.25 1146.81,612.81 1152.29,622.76 1157.26,626.5 1162.74,637.7 1167.72,634.46 1172.7,630.98 1177.67,627.74 1183.65,620.27 1183.65,551.3"/>
<polyline fill="none" stroke="#f0e2a6" stroke-width="1.85" stroke-linejoin="round" points="0,660.1 9.96,654.37 24.89,648.4 39.82,641.43 49.78,640.93 59.74,645.16 70.44,645.79 75.42,646.05 80.15,647.4 85.87,648.33 90.35,649.34 95.83,650.85 100.81,653.04 105.78,653.36 111.26,652.79 116.49,653.22 121.47,653.64 126.44,652.19 131.92,651.97 136.9,653.43 141.88,652.84 146.85,652.31 152.33,652.17 157.31,652.7 162.29,649.56 167.26,645.2 172.99,640.08 177.22,636.26 182.95,632.7 187.18,628.43 192.9,625.29 197.88,622.09 202.86,618.71 208.58,616.01 213.56,615.4 219.04,613.54 223.52,611.44 228.49,609.36 233.97,611.7 238.95,614.67 243.93,615.74 248.9,616.4 254.38,616.82 259.36,616.7 263.84,615.28 269.32,614.48 274.54,613.77 279.52,610.74 285,608.38 289.97,606.92 294.95,605.02 299.93,603.42 305.66,602.57 310.63,601.73 315.61,599.77 321.09,596.4 325.57,593.43 330,590.99 335.48,587.97 340.45,584 345.93,578.58 350.41,575.45 355.64,572.2 361.11,568.82 366.09,565.92 371.32,561.96 376.3,557.21 381.27,553.21 386.75,552.59 391.73,554.15 396.71,557.35 402.18,561.34 407.16,564.89 412.14,568.02 417.12,572.11 422.09,576.13 427.07,578.14 432.55,577.91 437.53,579.92 442.5,583.22 447.98,584.77 452.96,585.39 458.19,582.6 463.41,578.6 468.39,574.51 473.37,570.78 478.35,567.1 483.82,564.47 488.8,561.35 493.78,556.86 498.76,554.99 504.23,557.21 509.21,557.09 514.19,556.15 519.17,555.4 524.15,554.86 529.12,557.71 534.1,562.24 539.58,566.51 544.56,569.41 549.53,572.43 555.01,575.99 559.99,580.79 565.22,586.17 570.44,592.13 575.17,595.12 580.15,598.8 585.87,602 590.85,605.94 595.83,608.26 600.81,609.22 605.79,608.86 611.26,609.39 616.24,609.04 621.22,609.07 626.2,608.9 631.67,608.4 636.65,607.1 641.63,603.99 646.61,601.09 652.08,599.22 657.06,596.97 662.49,594.12 667.47,593.29 672.45,592.72 677.42,592.63 682.4,590.8 687.38,589.02 692.86,588.16 697.83,586.35 702.81,585.34 708.54,585.34 713.51,584.84 718.49,585.11 723.47,583.47 728.45,581.87 733.43,579.97 738.41,576.77 743.38,573.66 748.36,569.92 753.34,566.95 759.06,565.18 764.04,563.99 769.02,562.6 774.5,561.59 779.47,560.34 784.45,559.45 789.43,559.45 794.91,560.55 799.88,562.94 805.61,567.47 810.09,571.63 815.57,576.96 820.54,582.3 825.52,586.3 830.5,589.14 836.22,590.48 841.2,592.7 846.18,593.23 850.66,597.37 856.14,602.14 861.61,608.22 866.09,613.73 871.57,615.21 876.55,615.3 881.53,616.24 887,614.87 891.98,614.16 896.96,615.37 902.43,618.03 907.41,619.9 912.39,620.66 917.62,622.26 922.59,619.63 928.07,617.06 933.3,612.97 938.28,609.02 943.25,609.2 948.23,607.19 953.21,606.92 958.69,607.7 963.66,608.54 968.64,608.26 973.62,607.37 978.6,607.13 984.07,608.77 989.05,609.02 994.23,610.3 999.21,609.59 1004.19,607.69 1009.41,606.97 1014.39,605.82 1019.37,605.93 1024.35,604.29 1029.82,602.48 1034.8,598.97 1039.78,597.43 1044.76,596.81 1050.23,597.3 1055.21,595.49 1060.19,593.82 1065.17,593.52 1070.89,595.83 1075.87,598.26 1080.85,599.15 1085.83,599.51 1090.81,600.7 1096.28,602.16 1100.76,603.54 1106.49,607.37 1111.47,611.01 1116.44,614.57 1121.92,618.51 1126.9,621.89 1131.88,626.28 1136.85,628.24 1141.83,627.88 1146.81,627.4 1152.29,628.06 1157.26,629.13 1162.74,630.91 1167.72,632.19 1172.7,633.79 1177.67,634.41 1183.65,633.43"/>
<polyline fill="none" stroke="#7767b8" stroke-width="1" stroke-linejoin="round" points="3.73,648.9 8.71,624.5 14.44,628.99 19.91,633.47 24.89,640.19 29.87,647.65 34.35,654.37 39.82,641.43 44.8,638.44 49.78,643.42 55.26,674.29 60.48,669.31 65.21,645.91 70.44,650.14 75.42,652.63 80.15,643.42 85.87,641.93 90.35,647.65 95.83,661.34 100.81,678.27 105.78,658.85 111.26,633.47 116.49,644.42 121.47,649.4 126.44,653.88 131.92,666.32 136.9,666.32 141.88,641.93 146.85,645.16 152.33,641.43 157.31,649.4 162.29,603.6 167.26,600.36 172.99,606.58 177.22,605.34 182.95,583.68 187.18,584.68 192.9,605.34 197.88,609.07 202.86,619.03 208.58,628.49 213.56,633.47 219.04,619.03 223.52,612.06 228.49,620.27 233.97,636.45 238.95,641.93 243.93,621.52 248.9,614.55 254.38,589.66 259.36,582.94 263.84,585.43 269.32,597.87 274.54,609.07 279.52,586.17 285,600.36 289.97,598.62 294.95,585.43 299.93,597.87 305.66,624.5 310.63,630.23 315.61,594.14 321.09,567.26 325.57,548.09 330,548.84 335.48,543.11 340.45,542.37 345.93,533.16 350.41,542.37 355.64,554.81 361.11,551.33 366.09,544.86 371.32,542.37 376.3,558.05 381.27,574.23 386.75,585.43 391.73,589.16 396.71,592.89 402.18,604.59 407.16,592.89 412.14,586.17 417.12,590.41 422.09,598.62 427.07,582.94 432.55,548.09 437.53,572.98 442.5,588.66 447.98,579.7 452.96,582.94 458.19,546.35 463.41,533.16 468.39,535.65 473.37,552.32 478.35,541.37 483.82,549.34 488.8,546.85 493.78,535.65 498.76,556.8 504.23,579.2 509.21,571.24 514.19,575.47 519.17,569.25 524.15,575.47 529.12,586.17 534.1,596.63 539.58,595.38 544.56,592.89 549.53,583.68 555.01,599.12 559.99,614.05 565.22,611.06 570.44,640.19 575.17,621.02 580.15,622.76 585.87,620.27 590.85,624.5 595.83,607.83 600.81,599.61 605.79,591.65 611.26,602.85 616.24,587.92 621.22,584.18 626.2,596.63 631.67,607.08 636.65,592.89 641.63,596.63 646.61,580.45 652.08,596.63 657.06,588.66 662.49,584.68 667.47,596.13 672.45,591.65 677.42,590.41 682.4,577.21 687.38,563.03 692.86,572.23 697.83,571.24 702.81,592.89 708.54,592.89 713.51,589.66 718.49,584.18 723.47,573.73 728.45,566.26 733.43,558.05 738.41,551.33 743.38,548.09 748.36,538.14 753.34,535.65 759.06,538.14 764.04,555.56 769.02,551.82 774.5,578.71 779.47,575.47 784.45,577.21 789.43,584.18 794.91,589.16 799.88,599.61 805.61,621.52 810.09,609.57 815.57,622.76 820.54,612.81 825.52,591.65 830.5,577.96 836.22,574.23 841.2,582.94 846.18,586.17 850.66,633.47 856.14,643.92 861.61,669.31 866.09,666.32 871.57,620.27 876.55,622.76 881.53,622.76 887,603.6 891.98,602.85 896.96,608.58 902.43,615.3 907.41,600.36 912.39,593.64 917.62,608.58 922.59,596.63 928.07,607.83 933.3,612.06 938.28,611.06 943.25,622.76 948.23,594.64 953.21,619.03 958.69,614.55 963.66,614.55 968.64,604.59 973.62,602.85 978.6,597.13 984.07,616.54 989.05,612.06 994.23,614.55 999.21,597.87 1004.19,585.43 1009.41,601.11 1014.39,606.58 1019.37,596.13 1024.35,596.13 1029.82,589.16 1034.8,565.51 1039.78,582.94 1044.76,594.14 1050.23,604.09 1055.21,591.15 1060.19,588.66 1065.17,610.32 1070.89,630.23 1075.87,619.53 1080.85,613.55 1085.83,611.56 1090.81,612.81 1096.28,616.54 1100.76,608.58 1106.49,619.03 1111.47,633.96 1116.44,643.92 1121.92,659.35 1126.9,638.44 1131.88,650.14 1136.85,637.7 1141.83,625.25 1146.81,612.81 1152.29,622.76 1157.26,626.5 1162.74,637.7 1167.72,634.46 1172.7,630.98 1177.67,627.74 1183.65,620.27"/>
</svg>
<div style="position:absolute;left:0;top:0;width:1366px;height:724px;will-change:transform">
<div class="pl" style="top:28.6px">1.20000</div>
<div class="pl" style="top:76.5px">1.18000</div>
<div class="pl" style="top:124.3px">1.16000</div>
<div class="pl" style="top:172.2px">1.14000</div>
<div class="pl" style="top:220.1px">1.12000</div>
<div class="pl" style="top:268.0px">1.10000</div>
<div class="pl" style="top:315.8px">1.08000</div>
<div class="pl" style="top:363.7px">1.06000</div>
<div class="pl" style="top:411.6px">1.04000</div>
<div class="pl" style="top:459.4px">1.02000</div>
<div class="pl" style="top:511.7px;left:1305.4px">80.00</div>
<div class="pl" style="top:544.0px;left:1305.4px">70.00</div>
<div class="pl" style="top:575.7px;left:1305.4px">60.00</div>
<div class="pl" style="top:607.4px;left:1305.4px">50.00</div>
<div class="pl" style="top:639.3px;left:1305.4px">40.00</div>
<div class="pl" style="top:671.2px;left:1305.4px">30.00</div>
<div class="tl" style="left:183px">Feb</div>
<div class="tl" style="left:285.5px">Mar</div>
<div class="tl" style="left:392.5px">Apr</div>
<div class="tl" style="left:505px">May</div>
<div class="tl" style="left:617px">Jun</div>
<div class="tl" style="left:724px">Jul</div>
<div class="tl" style="left:842px">Aug</div>
<div class="tl" style="left:949px">Sep</div>
<div class="tl" style="left:1061px">Oct</div>
<div class="tl" style="left:1178.5px">Nov</div>
<div class="tl" style="left:71px;font-weight:bold;font-size:12.3px;letter-spacing:1.1px">2025</div>
</div>
<svg width="1366" height="724" viewBox="0 0 1366 724" font-family="Liberation Sans, sans-serif"><circle cx="20.7" cy="13.6" r="4.1" fill="#fff"/>
<clipPath id="us"><circle cx="20.7" cy="13.6" r="3.6"/></clipPath>
<g clip-path="url(#us)"><rect x="16" y="9" width="10" height="10" fill="#f2f2f5"/><rect x="16" y="11.4" width="10" height="1.3" fill="#e0465a"/><rect x="16" y="13.9" width="10" height="1.5" fill="#e0465a"/><rect x="16" y="16.4" width="10" height="1.2" fill="#e0465a"/><rect x="16" y="9" width="5.2" height="4.6" fill="#3c7ec4"/></g>
<circle cx="15" cy="19.3" r="5.6" fill="#fff"/>
<circle cx="15" cy="19.3" r="4.9" fill="#1f5fae"/>
<circle cx="15" cy="19.3" r="2.6" fill="none" stroke="#4f8fd6" stroke-width="0.9" stroke-dasharray="0.9 0.7"/>
<text x="27.7" y="21.7" font-size="12.6" fill="#20232d" font-weight="normal" textLength="93.1" lengthAdjust="spacingAndGlyphs" stroke="#20232d" stroke-width="0.22" >Euro / U.S. Dollar</text>
<text x="124.6" y="21.7" font-size="12.6" fill="#20232d" font-weight="normal" textLength="2.6" lengthAdjust="spacingAndGlyphs" stroke="#20232d" stroke-width="0.22" >·</text>
<text x="132.4" y="21.7" font-size="12.6" fill="#20232d" font-weight="normal" textLength="13.4" lengthAdjust="spacingAndGlyphs" stroke="#20232d" stroke-width="0.22" >1D</text>
<text x="150.6" y="21.7" font-size="12.6" fill="#20232d" font-weight="normal" textLength="2.6" lengthAdjust="spacingAndGlyphs" stroke="#20232d" stroke-width="0.22" >·</text>
<text x="156.6" y="21.7" font-size="12.6" fill="#20232d" font-weight="normal" textLength="41.2" lengthAdjust="spacingAndGlyphs" stroke="#20232d" stroke-width="0.22" >OANDA</text>
<circle cx="211.5" cy="16.6" r="6.4" fill="#dff3ee"/><circle cx="211.5" cy="16.6" r="3.1" fill="#1c9a80"/>
<text x="224.7" y="20.7" font-size="10.4" fill="#20232d" font-weight="normal" textLength="6.6" lengthAdjust="spacingAndGlyphs" stroke="#20232d" stroke-width="0.22" >O</text>
<text x="233.5" y="20.7" font-size="10.4" fill="#48a28f" font-weight="normal" textLength="39.2" lengthAdjust="spacingAndGlyphs" stroke="#48a28f" stroke-width="0.22" >1.16358</text>
<text x="278.1" y="20.7" font-size="10.4" fill="#20232d" font-weight="normal" textLength="6.6" lengthAdjust="spacingAndGlyphs" stroke="#20232d" stroke-width="0.22" >H</text>
<text x="286.9" y="20.7" font-size="10.4" fill="#48a28f" font-weight="normal" textLength="38.8" lengthAdjust="spacingAndGlyphs" stroke="#48a28f" stroke-width="0.22" >1.16520</text>
<text x="331.5" y="20.7" font-size="10.4" fill="#20232d" font-weight="normal" textLength="4.4" lengthAdjust="spacingAndGlyphs" stroke="#20232d" stroke-width="0.22" >L</text>
<text x="338.4" y="20.7" font-size="10.4" fill="#48a28f" font-weight="normal" textLength="38.5" lengthAdjust="spacingAndGlyphs" stroke="#48a28f" stroke-width="0.22" >1.16178</text>
<text x="382.3" y="20.7" font-size="10.4" fill="#20232d" font-weight="normal" textLength="6.7" lengthAdjust="spacingAndGlyphs" stroke="#20232d" stroke-width="0.22" >C</text>
<text x="391.5" y="20.7" font-size="10.4" fill="#48a28f" font-weight="normal" textLength="38.5" lengthAdjust="spacingAndGlyphs" stroke="#48a28f" stroke-width="0.22" >1.16450</text>
<text x="435.4" y="20.7" font-size="10.4" fill="#20232d" font-weight="normal" textLength="13.9" lengthAdjust="spacingAndGlyphs" stroke="#20232d" stroke-width="0.22" >Vol</text>
<text x="452" y="20.7" font-size="10.4" fill="#48a28f" font-weight="normal" textLength="31.7" lengthAdjust="spacingAndGlyphs" stroke="#48a28f" stroke-width="0.22" >112.05</text>
<text x="486.2" y="20.7" font-size="10.4" fill="#48a28f" font-weight="normal" textLength="5.6" lengthAdjust="spacingAndGlyphs" stroke="#48a28f" stroke-width="0.22" >K</text>
<text x="10.85" y="39.3" font-size="10.2" fill="#20232d" font-weight="normal" textLength="62.9" lengthAdjust="spacingAndGlyphs" stroke="#20232d" stroke-width="0.22" >EMA 50 close</text>
<text x="81.3" y="39.3" font-size="10.2" fill="#5b86d8" font-weight="normal" textLength="38.8" lengthAdjust="spacingAndGlyphs" stroke="#5b86d8" stroke-width="0.22" >1.16615</text>
<rect x="10.5" y="47.8" width="21" height="14.4" rx="2.5" fill="#fff" stroke="#e3e3e6" stroke-width="1"/>
<path d="M17.7 56.7L20.8 53.7L23.9 56.7" fill="none" stroke="#2a2d38" stroke-width="1.3" stroke-linecap="round" stroke-linejoin="round"/>
<text x="10.7" y="531" font-size="10.3" fill="#3b3e48" font-weight="normal" textLength="57.0" lengthAdjust="spacingAndGlyphs" stroke="#3b3e48" stroke-width="0.22" >RSI 14 close</text>
<text x="74.9" y="531" font-size="10.3" fill="#9b8ad4" font-weight="normal" textLength="27.0" lengthAdjust="spacingAndGlyphs" stroke="#9b8ad4" stroke-width="0.22" >48.35</text>
<text x="107" y="531" font-size="10.3" fill="#f5dc90" font-weight="normal" textLength="27.2" lengthAdjust="spacingAndGlyphs" stroke="#f5dc90" stroke-width="0.22" >44.24</text>
<rect x="1300.8" y="8.6" width="58.6" height="18.4" rx="3" fill="#fff" stroke="#efeff1" stroke-width="1"/>
<text x="1303.9" y="21.6" font-size="9.8" fill="#3b3e48" font-weight="normal" textLength="18.3" lengthAdjust="spacingAndGlyphs" stroke="#3b3e48" stroke-width="0.22" >USD</text>
<path d="M1352.6 17.2L1354.7 19.2L1356.8 17.2" fill="none" stroke="#2a2d38" stroke-width="1.1" stroke-linecap="round" stroke-linejoin="round"/>
<g transform="translate(12.3,669.5) scale(0.65)" fill="#fff" stroke="#fff" stroke-width="3.4" stroke-linejoin="round"><path d="M14 22H7V11H0V4h14v18zM28 22h-8l7.5-18h8L28 22z"/><circle cx="20" cy="8" r="4"/></g>
<g transform="translate(12.3,669.5) scale(0.65)" fill="#111"><path d="M14 22H7V11H0V4h14v18zM28 22h-8l7.5-18h8L28 22z"/><circle cx="20" cy="8" r="4"/></g>
<polygon points="1336.00,708.20 1333.30,712.88 1327.90,712.88 1325.20,708.20 1327.90,703.52 1333.30,703.52" fill="none" stroke="#50535e" stroke-width="1.1" stroke-linejoin="round"/>
<circle cx="1330.6" cy="708.2" r="1.7" fill="none" stroke="#50535e" stroke-width="1"/></svg>
<div class="b" style="left:0;top:1.5px;width:1366px;height:3px;"></div>
<div class="b" style="left:0;top:1.5px;width:3.3px;height:724px;"></div>
<div class="b" style="left:1363px;top:1.5px;width:3px;height:724px;"></div>
<div class="b" style="left:0;top:722px;width:1363px;height:1px;background:#f1f1f1"></div>
</body></html>
